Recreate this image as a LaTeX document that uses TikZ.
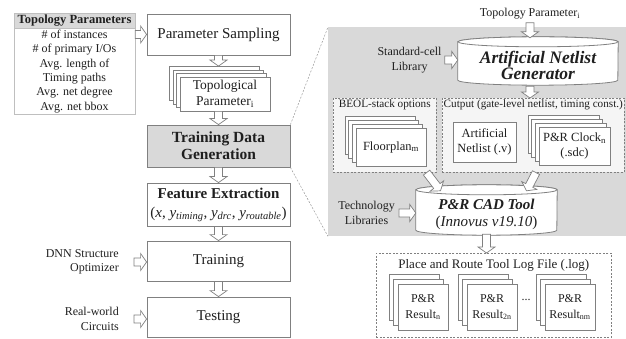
\documentclass[tikz,border=0pt]{standalone}
\usepackage{fontspec}
\setmainfont{Liberation Serif}
\usetikzlibrary{positioning, calc, shadows}

\definecolor{edgegray}{gray}{0.5}
\definecolor{fillgray}{gray}{0.85}
\definecolor{panelgray}{gray}{0.85}
\definecolor{inkgray}{gray}{0.12}

\begin{document}
\begin{tikzpicture}[x=1pt, y=-1pt, every node/.style={text=inkgray},
    box/.style={draw=edgegray, line width=0.8pt, fill=white, align=center, inner sep=0pt},
    mainbox/.style={box, minimum width=143, font=\fontsize{15}{18}\selectfont},
    card/.style={box, font=\fontsize{12.5}{15.5}\selectfont},
    stack/.style={copy shadow={shadow xshift=-3*#1, shadow yshift=3*#1},
      copy shadow={shadow xshift=-2*#1, shadow yshift=2*#1},
      copy shadow={shadow xshift=-#1, shadow yshift=#1}},
    stacktwo/.style={copy shadow={shadow xshift=-9pt, shadow yshift=10pt},
      copy shadow={shadow xshift=-4.5pt, shadow yshift=5pt}},
    drumline/.style={draw=edgegray, line width=0.8pt, fill=white},
    lbl/.style={inner sep=0pt, font=\fontsize{12}{14.5}\selectfont},
    ttl/.style={inner sep=0pt, font=\fontsize{11.2}{13}\selectfont},
    dbox/.style={draw=edgegray, dashed, dash pattern=on 2pt off 1.5pt, line width=0.6pt,
      inner sep=0pt},
    guide/.style={draw=black!40, dashed, dash pattern=on 2pt off 1.5pt, line width=0.5pt},
    hollow/.style={draw=edgegray, fill=white, line width=0.7pt, line join=miter,
      to path={let \p1=(\tikztostart), \p2=(\tikztotarget), \p3=($(\p2)!6pt!(\p1)$) in
        ($(\p1)!4pt!90:(\p2)$) -- ($(\p3)!4pt!90:(\p2)$) -- ($(\p3)!8.5pt!90:(\p2)$) -- (\p2)
        -- ($(\p3)!8.5pt!-90:(\p2)$) -- ($(\p3)!4pt!-90:(\p2)$) -- ($(\p1)!4pt!-90:(\p2)$) -- cycle}}]
  \useasboundingbox (0,0) rectangle (626,339);

  % Topology parameter table
  \node[draw=black!25, fill=fillgray, minimum width=121, minimum height=15, inner sep=0pt,
    font=\bfseries\fontsize{12.5}{14}\selectfont] (tphead) at (74.5,20.5) {Topology Parameters};
  \node[draw=black!25, minimum width=121, minimum height=86, inner sep=0pt, align=center,
    font=\fontsize{12}{14.4}\selectfont, below=0pt of tphead] (tpbody)
    {\# of instances\\\# of primary I/Os\\Avg. length of\\Timing paths\\Avg. net degree\\Avg. net bbox};

  % Main flow
  \node[mainbox, minimum height=41] (psamp) at (218.5,34.5) {Parameter Sampling};
  \node[card, stack=3.5pt, minimum width=90, minimum height=34,
    font=\fontsize{13.5}{16}\selectfont] (topo) at (225,94) {Topological\\Parameter\textsubscript{i}};
  \coordinate (topotop) at ([yshift=10.5pt]topo.north);
  \node[mainbox, fill=fillgray, minimum height=42, font=\bfseries\fontsize{15.5}{17}\selectfont]
    (tdg) at (218.5,146) {Training Data\\Generation};
  \node[mainbox, minimum height=43] (feat) at (218.5,204.5)
    {\textbf{Feature Extraction}\\[1pt](\textit{x}, \textit{y}\textsubscript{\textit{timing}},
    \textit{y}\textsubscript{\textit{drc}}, \textit{y}\textsubscript{\textit{routable}})};
  \node[mainbox, minimum height=40] (train) at (218.5,261) {Training};
  \node[mainbox, minimum height=40] (test) at (218.5,317) {Testing};

  % Side inputs
  \node[lbl, align=right, anchor=east] (dnn) at (119,262) {DNN Structure\\Optimizer};
  \node[lbl, align=right, anchor=east] (rwc) at (119,319) {Real-world\\Circuits};

  % Zoomed panel
  \node[fill=panelgray, minimum width=298, minimum height=209, inner sep=0pt,
    anchor=north west] (panel) at (328,27) {};
  \draw[guide] (tdg.north east) -- (panel.north west);
  \draw[guide] (tdg.south east) -- (panel.south west);

  % Cylinders: frame nodes, outline drawn below
  \node[minimum width=160, minimum height=48, inner sep=0pt] (angen) at (538,61) {};
  \node[minimum width=141, minimum height=50, inner sep=0pt] (pr) at (486.5,210) {};
  \foreach \d/\r in {angen/80, pr/70.5} {
    \filldraw[drumline] ([yshift=-5pt]\d.north west) -- ([yshift=5pt]\d.south west)
      arc[start angle=180, end angle=0, x radius=\r, y radius=5]
      -- ([yshift=-5pt]\d.north east) arc[start angle=0, end angle=-180, x radius=\r, y radius=5] -- cycle;
    \filldraw[drumline] ([yshift=-5pt]\d.north) ellipse[x radius=\r, y radius=5];
  }

  \node[lbl] (tpi) at (530,14) {Topology Parameter\textsubscript{i}};
  \node[align=center, inner sep=0pt, font=\bfseries\itshape\fontsize{17.5}{16}\selectfont]
    (angentxt) at (538,65) {Artificial Netlist\\Generator};
  \node[lbl, align=center] (stdlib) at (409.5,60) {Standard-cell\\Library};

  \node[dbox, fill=black!4, minimum width=103, minimum height=74, anchor=north west] (beol) at (333,98) {};
  \node[ttl, below=2pt of beol.north] (beolttl) {BEOL-stack options};
  \node[card, stack=3.7pt, minimum width=70, minimum height=38] (fplan) at (391,147) {Floorplan\textsubscript{m}};

  \node[dbox, fill=black!4, minimum width=182, minimum height=74, anchor=north west] (outbox) at (442,98) {};
  \node[ttl, below=2pt of outbox.north] (outttl) {Cutput (gate-level netlist, timing const.)};
  \node[card, minimum width=63, minimum height=40] (anet) at (484.5,142) {Artificial\\Netlist (.v)};
  \node[card, stack=3.7pt, minimum width=71, minimum height=38] (clk) at (574.5,146) {P\&R Clock\textsubscript{n}\\(.sdc)};

  \node[align=center, inner sep=0pt, font=\fontsize{15}{17}\selectfont] (prtxt) at (486.5,214)
    {\textbf{\textit{P\&R CAD Tool}}\\(\textit{Innovus v19.10})};
  \node[lbl, align=center] (techlib) at (366.5,213) {Technology\\Libraries};

  % Log files
  \node[dbox, minimum width=235, minimum height=84, anchor=north west] (logbox) at (376,253) {};
  \node[ttl, font=\fontsize{13}{14}\selectfont, below=6pt of logbox.north] (logttl)
    {Place and Route Tool Log File (.log)};
  \foreach \n/\x/\s in {res1/423/n, res2/492/2n, res3/570/nm}
    \node[card, stacktwo, minimum width=50, minimum height=46, font=\fontsize{12}{16}\selectfont]
      (\n) at (\x,307) {P\&R\\Result\textsubscript{\s}};
  \node[lbl] (dots) at (526,300) {...};

  % Arrows
  \draw[hollow] (tpbody.east |- psamp.west) to (psamp.west);
  \draw[hollow] (psamp.south) to (psamp.south |- topotop);
  \draw[hollow] (tdg.north |- topo.south) to (tdg.north);
  \draw[hollow] (tdg.south) to (feat.north);
  \draw[hollow] (feat.south) to (train.north);
  \draw[hollow] (train.south) to (test.north);
  \draw[hollow] ([xshift=15pt]dnn.east) to (train.west |- dnn.east);
  \draw[hollow] ([xshift=15pt]rwc.east) to (test.west |- rwc.east);

  \draw[hollow] ([yshift=-3pt]tpi.south) to ([yshift=-1pt]tpi.south |- angen.north);
  \draw[hollow] ([xshift=3pt]stdlib.east) to (stdlib.east -| angen.west);
  \draw[hollow] ([yshift=-1pt]angen.south -| tpi.south) to (tpi.south |- outbox.north);
  \draw[hollow] ([xshift=-10pt]beol.south east) to ([xshift=-46pt, yshift=-6pt]pr.north);
  \draw[hollow] ([xshift=94pt]outbox.south west) to ([xshift=40pt, yshift=-6pt]pr.north);
  \draw[hollow] ([xshift=4pt]techlib.east) to (techlib.east -| pr.west);
  \draw[hollow] ([yshift=1pt]pr.south) to (pr.south |- logbox.north);
\end{tikzpicture}
\end{document}
